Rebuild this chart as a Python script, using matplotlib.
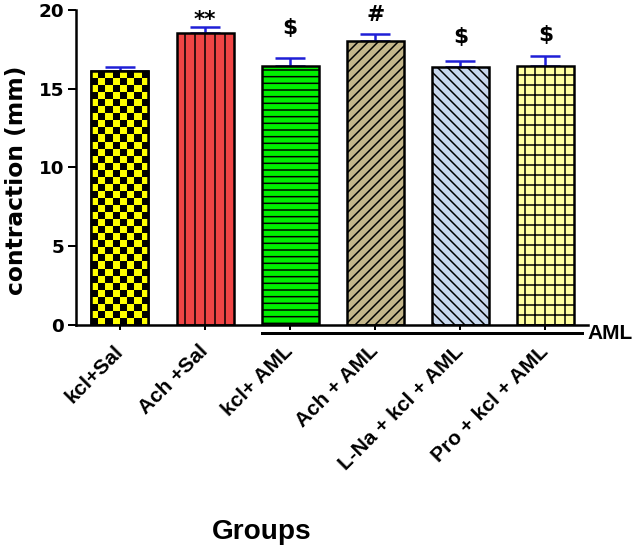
import numpy as np
import matplotlib
matplotlib.use("Agg")
import matplotlib.pyplot as plt
from matplotlib.colors import ListedColormap
import matplotlib.transforms as mtransforms

groups = ["kcl+Sal", "Ach +Sal", "kcl+ AML", "Ach + AML",
          "L-Na + kcl + AML", "Pro + kcl + AML"]
means = [16.1, 18.55, 16.45, 18.05, 16.35, 16.45]
sems = [0.3, 0.4, 0.5, 0.45, 0.4, 0.6]
marks = ["", "**", "$", "#", "$", "$"]
# baseline gap above each error bar, in points
mark_gap = [0, 0.5, 14.5, 7.5, 11, 9.5]

colors = ["#ffff00", "#f04545", "#00f000", "#c4b68a", "#c8d8ee", "#ffffa0"]
hatches = [None, "||", "---", "////", "\\\\\\\\", "++"]

plt.rcParams["hatch.linewidth"] = 0.9
plt.rcParams["font.family"] = ["Liberation Sans", "DejaVu Sans"]
plt.rcParams["font.weight"] = "bold"

fig = plt.figure(figsize=(638 / 120, 547 / 120), dpi=120)
ax = fig.add_axes([0.119, 0.4059, 0.9216 - 0.119, 0.9817 - 0.4059])

x = np.arange(len(groups))
width = 0.67

# error bars first so the bars hide the lower half
ax.errorbar(x, means, yerr=[np.zeros(len(sems)), sems], fmt="none",
            ecolor="#1f1fd6", elinewidth=1.5, capsize=9, capthick=1.5, zorder=1)

bars = ax.bar(x, means, width, color=colors, edgecolor="black",
              linewidth=1.5, zorder=2)
for b, h in zip(bars, hatches):
    if h:
        b.set_hatch(h)

# checkerboard fill for the first bar
b0 = bars[0]
board = np.indices((36, 8)).sum(axis=0) % 2
im = ax.imshow(board, cmap=ListedColormap(["#ffff00", "black"]),
               extent=[b0.get_x(), b0.get_x() + b0.get_width(), 0, b0.get_height()],
               aspect="auto", interpolation="nearest", zorder=2.1)
im.set_clip_path(b0)
ax.bar(x[0], means[0], width, fill=False, edgecolor="black", linewidth=1.5, zorder=3)

# significance marks
for xi, m, s, t, g in zip(x, means, sems, marks, mark_gap):
    if t:
        ax.annotate(t.replace("$", r"\$"), (xi, m + s), xytext=(0, g),
                    textcoords="offset points", ha="center", va="baseline",
                    fontsize=13, fontweight="bold", family="DejaVu Sans",
                    annotation_clip=False)

ax.set_xlim(-0.517, 5.5)
ax.set_ylim(0, 20)
ax.set_yticks([0, 5, 10, 15, 20])
ax.set_xticks(x)
ax.set_xticklabels(groups, rotation=45, ha="right", va="center",
                   rotation_mode="anchor", fontsize=12.5, fontweight="bold")
for lab in ax.get_yticklabels():
    lab.set_family("DejaVu Sans")
    lab.set_fontsize(11)
    lab.set_fontweight("bold")

ax.tick_params(axis="x", direction="out", length=3, width=1.2, pad=11)
ax.tick_params(axis="y", direction="out", length=5, width=1.2, pad=2)
for side in ["top", "right"]:
    ax.spines[side].set_visible(False)
for side in ["left", "bottom"]:
    ax.spines[side].set_linewidth(1.5)

# AML bracket under the treated groups
y_line = -0.54
ax.plot([x[2] - width / 2, x[-1] + width / 2 + 0.1], [y_line, y_line],
        color="black", lw=1.8, clip_on=False)
trans = mtransforms.blended_transform_factory(ax.transAxes, ax.transData)
ax.text(1.0, y_line, "AML", transform=trans, ha="left", va="center",
        fontsize=12.5, fontweight="bold")

ax.set_ylabel("contraction (mm)", fontsize=14, fontweight="bold", family="DejaVu Sans")
ax.yaxis.set_label_coords(-0.094, 0.46)
fig.text(262 / 638, 1 - 532 / 547, "Groups", ha="center", va="center",
         fontsize=16.8, fontweight="bold")

fig.savefig("out.png", dpi=120)
